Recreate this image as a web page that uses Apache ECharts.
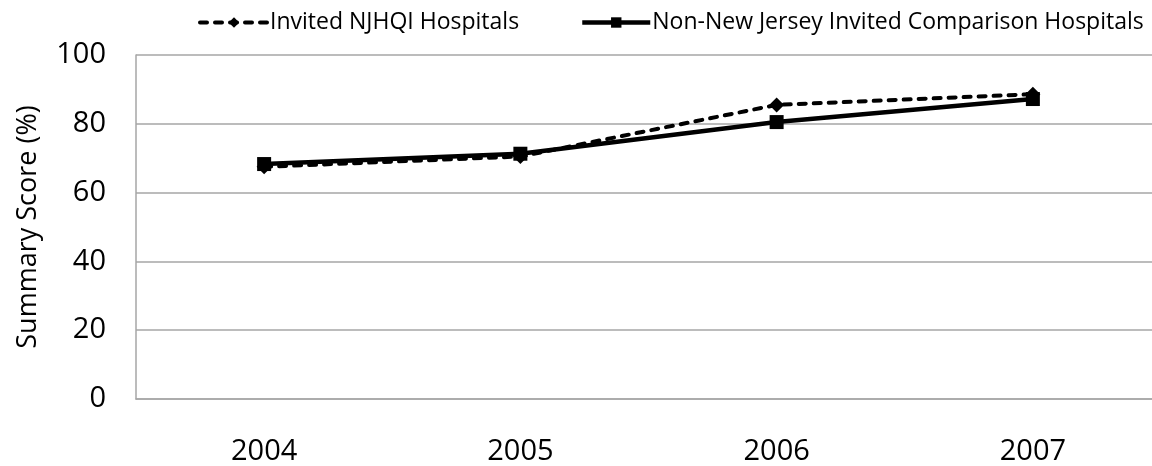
<!DOCTYPE html>
<html>
<head>
<meta charset="utf-8">
<script src="https://cdn.jsdelivr.net/npm/echarts@6/dist/echarts.min.js"></script>
<style>
html,body{margin:0;padding:0;background:#fff;}
#chart{width:1152px;height:466px;}
</style>
</head>
<body>
<div id="chart"></div>
<script>
var years = ['2004', '2005', '2006', '2007'];
var njhqi = [67.5, 70.5, 85.5, 88.6];
var nonNJ = [68.3, 71.3, 80.5, 87.2];
var seriesNames = ['Invited NJHQI Hospitals', 'Non-New Jersey Invited Comparison Hospitals'];
var yTitle = 'Summary Score (%)';

var FONT = '"Open Sans", "Noto Sans", sans-serif';
var chart = echarts.init(document.getElementById('chart'));
chart.setOption({
  animation: false,
  backgroundColor: '#fff',
  grid: { left: 136, top: 55, right: -9, bottom: 67, containLabel: false, outerBoundsMode: 'none' },
  legend: [
    {
      data: [seriesNames[0]], left: 193, top: 6,
      itemWidth: 68, itemHeight: 13, itemGap: 4,
      lineStyle: { width: 4 },
      textStyle: { fontFamily: FONT, fontSize: 23, color: '#000', padding: [0, 0, 0, -3] }
    },
    {
      data: [seriesNames[1]], left: 575, top: 6,
      itemWidth: 68, itemHeight: 13,
      lineStyle: { width: 4.5 },
      textStyle: { fontFamily: FONT, fontSize: 23, color: '#000', padding: [0, 0, 0, -3] }
    }
  ],
  xAxis: {
    type: 'category',
    data: years,
    boundaryGap: true,
    axisTick: { show: false },
    axisLine: { lineStyle: { color: '#a6a6a6', width: 1.5 } },
    axisLabel: { fontFamily: FONT, fontSize: 29, color: '#000', margin: 38 }
  },
  yAxis: {
    type: 'value',
    min: 0, max: 100, interval: 20,
    name: yTitle,
    nameLocation: 'middle',
    nameGap: 94,
    nameTextStyle: { fontFamily: FONT, fontSize: 27, color: '#000' },
    axisLine: { show: true, lineStyle: { color: '#a6a6a6', width: 1.5 } },
    axisTick: { show: false },
    splitLine: { lineStyle: { color: '#a6a6a6', width: 1.5 } },
    axisLabel: { fontFamily: FONT, fontSize: 29, color: '#000', margin: 30 }
  },
  series: [
    {
      name: seriesNames[0], type: 'line', data: njhqi,
      symbol: 'diamond', symbolSize: 15,
      itemStyle: { color: '#000' },
      lineStyle: { color: '#000', width: 4, type: [7, 8], cap: 'round' }
    },
    {
      name: seriesNames[1], type: 'line', data: nonNJ,
      symbol: 'rect', symbolSize: 14,
      itemStyle: { color: '#000' },
      lineStyle: { color: '#000', width: 4.5, type: 'solid' }
    }
  ]
});
</script>
</body>
</html>
